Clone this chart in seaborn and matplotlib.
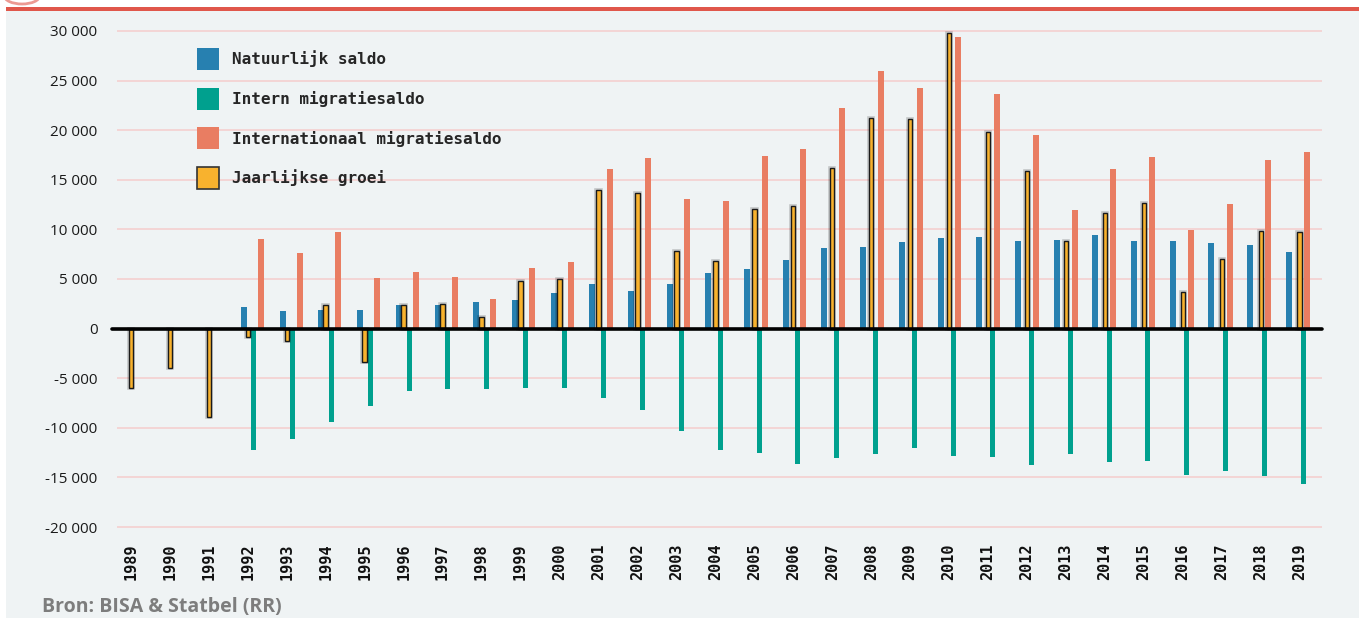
import numpy as np
import pandas as pd
import matplotlib.pyplot as plt
import matplotlib.patches as mpatches
import matplotlib.patheffects as pe
import seaborn as sns

# data
years = list(range(1989, 2020))
natuurlijk = [np.nan, np.nan, np.nan,
              2150, 1750, 1850, 1850, 2350, 2350, 2650, 2850, 3550, 4450, 3750, 4450,
              5600, 6000, 6900, 8100, 8200, 8700, 9100, 9200, 8800, 8900, 9400, 8800,
              8800, 8600, 8400, 7700]
intern = [np.nan, np.nan, np.nan,
          -12250, -11100, -9400, -7750, -6300, -6100, -6100, -6000, -6000, -6950, -8250,
          -10300, -12250, -12550, -13650, -13050, -12650, -12050, -12850, -12950, -13750,
          -12650, -13450, -13350, -14800, -14300, -14900, -15700]
internationaal = [np.nan, np.nan, np.nan,
                  9000, 7600, 9700, 5100, 5700, 5200, 3000, 6100, 6700, 16050, 17150,
                  13050, 12850, 17350, 18100, 22200, 25950, 24250, 29350, 23600, 19500,
                  11950, 16050, 17250, 9900, 12550, 16950, 17800]
groei = [-6000, -3950, -8900, -800, -1250, 2400, -3350, 2400, 2500, 1200, 4750, 5050,
         14000, 13700, 7850, 6800, 12050, 12400, 16150, 21250, 21100, 29750, 19850,
         15850, 8850, 11700, 12700, 3650, 7050, 9800, 9700]

labels = ['Natuurlijk saldo', 'Intern migratiesaldo',
          'Internationaal migratiesaldo', 'Jaarlijkse groei']
colors = ['#2780b0', '#00a08e', '#e97d62', '#f8b22e']

df = pd.DataFrame({'jaar': years, 'natuurlijk': natuurlijk, 'intern': intern,
                   'internationaal': internationaal, 'groei': groei})
df['idx'] = np.arange(len(df))

W, H = 1359, 618
fig = plt.figure(figsize=(W / 100, H / 100), dpi=100)
sns.set_style('white')
plt.rcParams['font.family'] = ['Open Sans', 'DejaVu Sans']

# grey panel + red top rule
fig.add_artist(mpatches.Rectangle((6 / W, 0), 1, 1 - 11 / H, transform=fig.transFigure,
                                  color='#eff3f4', zorder=-2, lw=0))
fig.add_artist(mpatches.Rectangle((6 / W, 1 - 11 / H), 1, 4 / H, transform=fig.transFigure,
                                  color='#e0574b', zorder=-1, lw=0))
fig.add_artist(mpatches.Circle((22 / W, 1 + 4 / H), 8 / H, transform=fig.transFigure,
                               fill=False, edgecolor='#e0574b', lw=2, alpha=0.6))

ax = fig.add_axes([117 / W, 1 - 537 / H, (1322 - 117) / W, (537 - 21) / H])
ax.set_facecolor('none')

# each series sits on its own slightly different spacing in the original
layout = {
    'natuurlijk': (0.9933, -0.077, 0.155),
    'intern': (0.9982, 0.152, 0.129),
    'internationaal': (0.9944, 0.356, 0.155),
}
for col, c in zip(['natuurlijk', 'intern', 'internationaal'], colors[:3]):
    step, shift, w = layout[col]
    sub = df.dropna(subset=[col])
    sns.barplot(x=sub['idx'] * step + shift, y=sub[col], native_scale=True, orient='x',
                color=c, saturation=1, width=w, linewidth=0, errorbar=None, ax=ax)

n_before = len(ax.patches)
sns.barplot(x=df['idx'], y=df['groei'], native_scale=True, orient='x', color=colors[3],
            saturation=1, width=0.115, edgecolor='#1a1a1a', linewidth=1.0,
            errorbar=None, ax=ax)
for p in ax.patches[n_before:]:
    p.set_path_effects([pe.Stroke(linewidth=2.6, foreground='#00000030'), pe.Normal()])

ax.axhline(0, color='black', lw=2.6, zorder=5, xmin=-0.004, clip_on=False)

ax.set_xlim(-0.357, 30.572)
ax.set_ylim(-21000, 31000)
yt = list(range(-20000, 30001, 5000))
ax.set_yticks(yt)
ax.set_yticklabels([f'{v:,}'.replace(',', ' ') for v in yt], fontsize=11,
                   color='#1a1a1a', family=['Open Sans', 'DejaVu Sans'])
ax.set_xticks(df['idx'])
ax.set_xticklabels(years, rotation=90, fontsize=11, fontweight='bold',
                   family='DejaVu Sans Mono', color='#111111')
ax.tick_params(axis='y', length=0, pad=14)
ax.tick_params(axis='x', length=0, pad=5)
ax.yaxis.grid(True, color='#f4d2d2', lw=1.3)
ax.xaxis.grid(False)
ax.set_axisbelow(True)
for s in ax.spines.values():
    s.set_visible(False)
ax.set_xlabel('')
ax.set_ylabel('')

handles = [mpatches.Patch(facecolor=c, edgecolor='none') for c in colors[:3]]
handles.append(mpatches.Patch(facecolor=colors[3], edgecolor='#333333', lw=1.2))
ax.legend(handles, labels, loc='upper left', bbox_to_anchor=(197 / W, 1 - 48 / H),
          bbox_transform=fig.transFigure, frameon=False, borderpad=0, borderaxespad=0,
          handlelength=1.4, handleheight=1.75, labelspacing=1.1, handletextpad=0.8,
          prop={'family': 'DejaVu Sans Mono', 'weight': 'bold', 'size': 11.5})

fig.text(42 / W, 1 - 612 / H, 'Bron: BISA & Statbel (RR)', color='#7d7d7d', va='baseline',
         fontsize=14, fontweight='bold', family=['Open Sans', 'DejaVu Sans'])

fig.savefig('out.png', dpi=100)
